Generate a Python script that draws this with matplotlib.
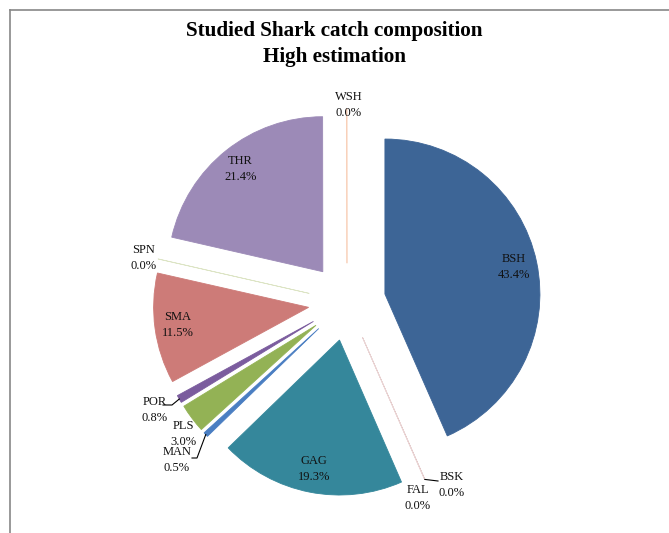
import numpy as np
import matplotlib
matplotlib.use("Agg")
import matplotlib.pyplot as plt
from matplotlib.lines import Line2D

plt.rcParams['font.family'] = ['Liberation Serif', 'DejaVu Serif']

# ---- data ----
species = ["BSH", "BSK", "FAL", "GAG", "MAN", "PLS", "POR", "SMA", "SPN", "THR", "WSH"]
shares = [43.4, 0.02, 0.02, 19.3, 0.5, 3.0, 0.8, 11.5, 0.02, 21.4, 0.02]
shown_pct = ["43.4%", "0.0%", "0.0%", "19.3%", "0.5%", "3.0%", "0.8%", "11.5%", "0.0%", "21.4%", "0.0%"]
colors = ["#3D6596", "#D8B8B8", "#EAD4D4", "#35879B", "#4A7EC2", "#93B255",
          "#7B5C9E", "#CD7B78", "#DCE4C4", "#9C8AB7", "#F8CDB4"]

W, H = 669, 533
R = 155.0          # pixel radius
CX, CY = 347, 302  # pixel center (from top)

fig = plt.figure(figsize=(W / 100, H / 100), dpi=100)
ax = fig.add_axes([0, 0, 1, 1])
ax.axis("off")

explode = [0.25] * len(shares)
wedges, _ = ax.pie(shares, explode=explode, colors=colors, startangle=90,
                   counterclock=False, radius=1.0, center=(0, 0),
                   wedgeprops=dict(linewidth=0.6, edgecolor="none"))
for w, c, s in zip(wedges, colors, shares):
    w.set_edgecolor(c)
    if s < 0.1:
        w.set_linewidth(0.5)

ax.set_xlim(-CX / R, (W - CX) / R)
ax.set_ylim(-(H - CY) / R, CY / R)
ax.set_aspect("auto")

def px(x, y):
    return ((x - CX) / R, (CY - y) / R)

def mid_dir(w):
    t = np.deg2rad((w.theta1 + w.theta2) / 2)
    return np.cos(t), np.sin(t)

fs = 9
inside = {"BSH", "GAG", "SMA", "THR"}
outside_pos = {
    "WSH": px(349, 105), "SPN": px(144, 258), "POR": px(155, 410),
    "PLS": px(183, 434), "MAN": px(177, 460), "FAL": px(418, 498),
    "BSK": px(452, 485),
}
for w, name, pct in zip(wedges, species, shown_pct):
    if name in inside:
        dx, dy = mid_dir(w)
        x, y = 1.1 * dx, 1.1 * dy
    else:
        x, y = outside_pos[name]
    ax.text(x, y, f"{name}\n{pct}", ha="center", va="center", fontsize=fs,
            linespacing=1.45, color="#111111")

# leader lines
leaders = {
    "POR": [px(163, 405), px(172, 405)],
    "MAN": [px(192, 458), px(197, 458)],
    "BSK": [px(438, 481)],
}
for w, name in zip(wedges, species):
    if name in leaders:
        dx, dy = mid_dir(w)
        ox, oy = 1.25 * dx, 1.25 * dy
        pts = leaders[name] + [(ox, oy)]
        xs = [p[0] for p in pts]
        ys = [p[1] for p in pts]
        ax.plot(xs, ys, color="black", lw=0.8)

fig.text(0.5, 1 - 44 / H, "Studied Shark catch composition\nHigh estimation",
         ha="center", va="center", fontsize=15.2, fontweight="bold",
         linespacing=1.35)

# outer frame (top & left lines)
fig.add_artist(Line2D([10 / W, 1], [1 - 9.5 / H, 1 - 9.5 / H], color="#888888", lw=1.2,
                      transform=fig.transFigure))
fig.add_artist(Line2D([10 / W, 10 / W], [0, 1 - 9.5 / H], color="#888888", lw=1.2,
                      transform=fig.transFigure))

fig.savefig("out.png", dpi=100)
